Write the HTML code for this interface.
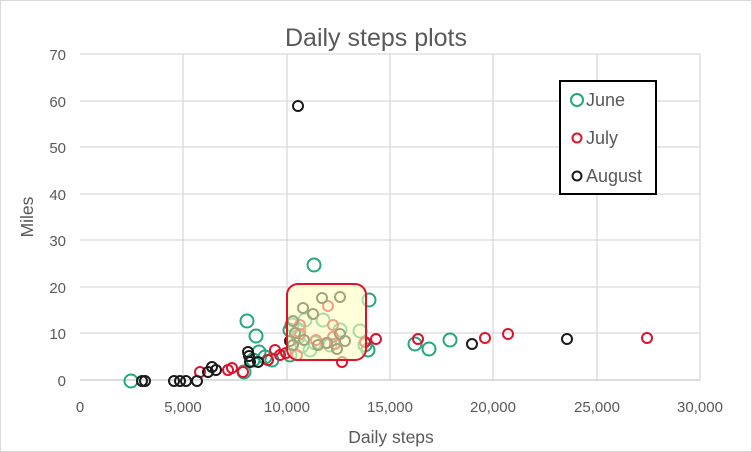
<!DOCTYPE html><html><head><style>body{margin:0;background:#fff}svg{display:block}text{font-family:"Liberation Sans",sans-serif;fill:#595959}</style></head><body>
<svg width="752" height="452" xmlns="http://www.w3.org/2000/svg">
<rect x="0.5" y="0.5" width="751" height="451" fill="#fff" stroke="#d9d9d9"/>
<text x="376" y="46" font-size="25" text-anchor="middle">Daily steps plots</text>
<g stroke="#d9d9d9" stroke-width="1.3">
<line x1="80" y1="54" x2="700" y2="54"/><line x1="80" y1="101" x2="700" y2="101"/><line x1="80" y1="147" x2="700" y2="147"/><line x1="80" y1="194" x2="700" y2="194"/><line x1="80" y1="240" x2="700" y2="240"/><line x1="80" y1="287" x2="700" y2="287"/><line x1="80" y1="333" x2="700" y2="333"/>
<line x1="183" y1="54" x2="183" y2="380"/><line x1="287" y1="54" x2="287" y2="380"/><line x1="390" y1="54" x2="390" y2="380"/><line x1="493" y1="54" x2="493" y2="380"/><line x1="597" y1="54" x2="597" y2="380"/><line x1="700" y1="54" x2="700" y2="380"/>
</g>
<line x1="80" y1="380" x2="700" y2="380" stroke="#d0d0d0" stroke-width="1.5"/>
<g font-size="15" text-anchor="end">
<text x="66" y="60">70</text><text x="66" y="107">60</text><text x="66" y="153">50</text><text x="66" y="200">40</text><text x="66" y="246">30</text><text x="66" y="293">20</text><text x="66" y="339">10</text><text x="66" y="386">0</text></g>
<g font-size="15" text-anchor="middle">
<text x="80" y="412">0</text><text x="183" y="412">5,000</text><text x="287" y="412">10,000</text><text x="390" y="412">15,000</text><text x="493" y="412">20,000</text><text x="597" y="412">25,000</text><text x="700" y="412">30,000</text></g>
<text x="391" y="443" font-size="17.5" text-anchor="middle">Daily steps</text>
<text transform="translate(33,217) rotate(-90)" font-size="17.5" text-anchor="middle">Miles</text>
<g fill="none" stroke="#24a77c" stroke-width="2">
<circle cx="131" cy="381" r="6.5"/><circle cx="247" cy="321" r="6.5"/><circle cx="256" cy="336" r="6.5"/><circle cx="244" cy="372" r="6.5"/><circle cx="259" cy="352" r="6.5"/><circle cx="265" cy="357" r="6.5"/><circle cx="272" cy="360" r="6.5"/><circle cx="253" cy="360" r="6.5"/><circle cx="314" cy="265" r="6.5"/><circle cx="290" cy="330" r="6.5"/><circle cx="292" cy="325" r="6.5"/><circle cx="299" cy="330" r="6.5"/><circle cx="298" cy="337" r="6.5"/><circle cx="305" cy="320" r="6.5"/><circle cx="310" cy="350" r="6.5"/><circle cx="302" cy="346" r="6.5"/><circle cx="323" cy="320" r="6.5"/><circle cx="330" cy="345" r="6.5"/><circle cx="340" cy="330" r="6.5"/><circle cx="360" cy="331" r="6.5"/><circle cx="369" cy="300" r="6.5"/><circle cx="368" cy="350" r="6.5"/><circle cx="365" cy="345" r="6.5"/><circle cx="415" cy="344" r="6.5"/><circle cx="429" cy="349" r="6.5"/><circle cx="450" cy="340" r="6.5"/><circle cx="290" cy="355" r="6.5"/><circle cx="315" cy="343" r="6.5"/></g>
<g fill="none" stroke="#e0112b" stroke-width="2">
<circle cx="200" cy="372" r="5"/><circle cx="228" cy="370" r="5"/><circle cx="243" cy="372" r="5"/><circle cx="232" cy="368" r="5"/><circle cx="275" cy="350" r="5"/><circle cx="268" cy="360" r="5"/><circle cx="286" cy="353" r="5"/><circle cx="297" cy="355" r="5"/><circle cx="316" cy="340" r="5"/><circle cx="326" cy="343" r="5"/><circle cx="333" cy="337" r="5"/><circle cx="335" cy="344" r="5"/><circle cx="328" cy="306" r="5"/><circle cx="333" cy="325" r="5"/><circle cx="342" cy="362" r="5"/><circle cx="365" cy="342" r="5"/><circle cx="376" cy="339" r="5"/><circle cx="418" cy="339" r="5"/><circle cx="485" cy="338" r="5"/><circle cx="508" cy="334" r="5"/><circle cx="647" cy="338" r="5"/><circle cx="300" cy="334" r="5"/><circle cx="300" cy="325" r="5"/><circle cx="280" cy="355" r="5"/></g>
<g fill="none" stroke="#1a1a1a" stroke-width="2">
<circle cx="298" cy="106" r="5"/><circle cx="142" cy="381" r="5"/><circle cx="145" cy="381" r="5"/><circle cx="174" cy="381" r="5"/><circle cx="180" cy="381" r="5"/><circle cx="186" cy="381" r="5"/><circle cx="197" cy="381" r="5"/><circle cx="208" cy="372" r="5"/><circle cx="212" cy="367" r="5"/><circle cx="216" cy="370" r="5"/><circle cx="248" cy="352" r="5"/><circle cx="249" cy="356" r="5"/><circle cx="250" cy="362" r="5"/><circle cx="258" cy="362" r="5"/><circle cx="322" cy="298" r="5"/><circle cx="340" cy="297" r="5"/><circle cx="293" cy="321" r="5"/><circle cx="303" cy="308" r="5"/><circle cx="313" cy="314" r="5"/><circle cx="295" cy="333" r="5"/><circle cx="318" cy="345" r="5"/><circle cx="327" cy="343" r="5"/><circle cx="337" cy="349" r="5"/><circle cx="345" cy="341" r="5"/><circle cx="340" cy="334" r="5"/><circle cx="304" cy="340" r="5"/><circle cx="472" cy="344" r="5"/><circle cx="567" cy="339" r="5"/><circle cx="293" cy="345" r="5"/><circle cx="290" cy="341" r="5"/></g>
<rect x="287" y="284" width="79" height="76" rx="11" fill="#ffffc0" fill-opacity="0.6" stroke="#e0112b" stroke-width="2"/>
<rect x="560" y="81" width="96" height="113" fill="#fff" stroke="#000" stroke-width="2"/>
<circle cx="577" cy="100" r="6" fill="none" stroke="#24a77c" stroke-width="2"/>
<circle cx="577" cy="138" r="4.5" fill="none" stroke="#e0112b" stroke-width="2"/>
<circle cx="577" cy="176" r="4.5" fill="none" stroke="#1a1a1a" stroke-width="2"/>
<g font-size="18"><text x="586" y="106">June</text><text x="586" y="144">July</text><text x="586" y="182">August</text></g>
</svg></body></html>
